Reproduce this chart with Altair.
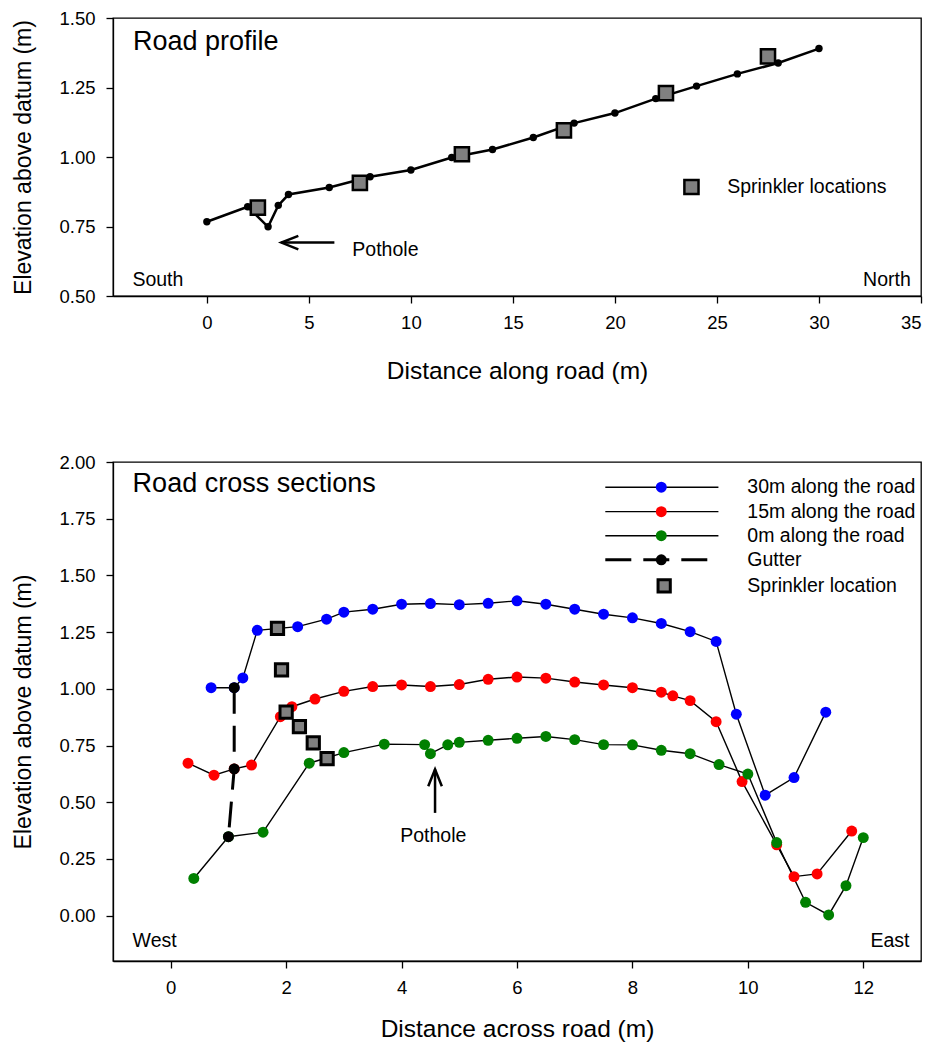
import altair as alt
import pandas as pd

FONT = "Liberation Sans"

# ---------------- top panel: road profile ----------------
profile_x = [0, 2, 3, 3.5, 4, 6, 8, 10, 12, 14, 16, 18, 20, 22, 24, 26, 28, 30]
profile_y = [0.767, 0.821, 0.749, 0.826, 0.865, 0.890, 0.929, 0.953, 0.998, 1.027,
             1.070, 1.122, 1.158, 1.210, 1.255, 1.299, 1.338, 1.390]
profile_spr_x = [2.5, 7.5, 12.5, 17.5, 22.5, 27.5]
profile_spr_y = [0.818, 0.907, 1.010, 1.096, 1.230, 1.362]
top_x_ticks = [0, 5, 10, 15, 20, 25, 30, 35]
top_y_ticks = [0.5, 0.75, 1.0, 1.25, 1.5]

# ---------------- bottom panel: cross sections ----------------
s30_x = [0.7, 1.1, 1.25, 1.5, 2.2, 2.7, 3.0, 3.5, 4.0, 4.5, 5.0, 5.5, 6.0, 6.5, 7.0,
         7.5, 8.0, 8.5, 9.0, 9.45, 9.8, 10.3, 10.8, 11.35]
s30_y = [1.005, 1.005, 1.048, 1.258, 1.274, 1.307, 1.338, 1.351, 1.373, 1.376, 1.371,
         1.377, 1.388, 1.373, 1.351, 1.329, 1.313, 1.288, 1.252, 1.209, 0.888, 0.531,
         0.609, 0.897]
s15_x = [0.3, 0.75, 1.1, 1.4, 1.9, 2.1, 2.5, 3.0, 3.5, 4.0, 4.5, 5.0, 5.5, 6.0, 6.5,
         7.0, 7.5, 8.0, 8.5, 8.7, 9.0, 9.45, 9.9, 10.5, 10.8, 11.2, 11.8]
s15_y = [0.672, 0.619, 0.647, 0.664, 0.877, 0.921, 0.955, 0.989, 1.010, 1.017, 1.010,
         1.019, 1.042, 1.052, 1.047, 1.030, 1.017, 1.005, 0.985, 0.969, 0.948, 0.855,
         0.591, 0.312, 0.172, 0.184, 0.373]
s0_x = [0.4, 1.0, 1.6, 2.4, 3.0, 3.7, 4.4, 4.5, 4.8, 5.0, 5.5, 6.0, 6.5, 7.0, 7.5,
        8.0, 8.5, 9.0, 9.5, 10.0, 10.5, 11.0, 11.4, 11.7, 12.0]
s0_y = [0.164, 0.348, 0.368, 0.672, 0.719, 0.756, 0.754, 0.714, 0.753, 0.764, 0.773,
        0.782, 0.790, 0.776, 0.754, 0.753, 0.729, 0.714, 0.666, 0.624, 0.322, 0.059,
        0.003, 0.132, 0.344]
gutter_x = [1.1, 1.1, 1.0]
gutter_y = [1.005, 0.647, 0.348]
cross_spr_x = [1.85, 1.92, 2.0, 2.23, 2.47, 2.71]
cross_spr_y = [1.267, 1.083, 0.897, 0.833, 0.762, 0.692]
series_names = ["30m along the road", "15m along the road", "0m along the road"]
series_colors = ["#0000FF", "#FF0000", "#008000"]
bot_x_ticks = [0, 2, 4, 6, 8, 10, 12]
bot_y_ticks = [0, 0.25, 0.5, 0.75, 1.0, 1.25, 1.5, 1.75, 2.0]

# ---------------- annotation positions (data units) ----------------
top_texts = ["Road profile", "South", "Pothole", "Sprinkler locations"]
top_text_x = [-3.62, -3.65, 7.13, 25.5]
top_text_y = [1.385, 0.536, 0.667, 0.892]
top_text_size = [27, 19.5, 19.5, 19.5]
top_text_base = ["alphabetic", "alphabetic", "middle", "middle"]
north_x, north_y = 34.5, 0.536
top_arrow = dict(x=6.25, x2=3.65, y=0.692)
top_legend_sq = dict(x=23.75, y=0.892)

bot_texts = ["Road cross sections", "West", "Pothole"]
bot_text_x = [-0.66, -0.66, 4.55]
bot_text_y = [1.866, -0.137, 0.351]
bot_text_size = [27, 19.5, 19.5]
bot_text_align = ["left", "left", "center"]
east_x, east_y = 12.8, -0.137
bot_arrow = dict(x=4.58, y=0.453, y2=0.645)

leg_labels = ["30m along the road", "15m along the road", "0m along the road",
              "Gutter", "Sprinkler location"]
leg_y = [1.889, 1.781, 1.675, 1.569, 1.454]
leg_line_x = [7.53, 9.49]
leg_dot_x = 8.5
leg_text_x = 9.99
leg_sq_x = 8.55

# ---------------- scales / encodings ----------------
xs_top = alt.Scale(domain=[-4.6, 35], nice=False, zero=False)
ys_top = alt.Scale(domain=[0.5, 1.5], nice=False, zero=False)
xs_bot = alt.Scale(domain=[-1, 13], nice=False, zero=False)
ys_bot = alt.Scale(domain=[-0.2, 2.0], nice=False, zero=False)

X_top = alt.X("x:Q", scale=xs_top,
              axis=alt.Axis(values=top_x_ticks, format="d", title="Distance along road (m)",
                            titlePadding=28))
Y_top = alt.Y("y:Q", scale=ys_top,
              axis=alt.Axis(values=top_y_ticks, format=".2f", title="Elevation above datum (m)"))
X_bot = alt.X("x:Q", scale=xs_bot,
              axis=alt.Axis(values=bot_x_ticks, format="d", title="Distance across road (m)",
                            titlePadding=21))
Y_bot = alt.Y("y:Q", scale=ys_bot,
              axis=alt.Axis(values=bot_y_ticks, format=".2f", title="Elevation above datum (m)"))

ARROW_LEFT = "M 2,-0.8 L 0,0 L 2,0.8"
ARROW_UP = "M -0.8,2 L 0,0 L 0.8,2"

# ---------------- top chart ----------------
prof_df = pd.DataFrame({"x": profile_x, "y": profile_y, "i": list(range(len(profile_x)))})
pspr_df = pd.DataFrame({"x": profile_spr_x, "y": profile_spr_y})

t_line = alt.Chart(prof_df).mark_line(color="black", strokeWidth=2.5).encode(
    X_top, Y_top, order="i:Q")
t_pts = alt.Chart(prof_df).mark_point(shape="circle", filled=True, color="black",
                                      size=55, opacity=1).encode(X_top, Y_top)
t_spr = alt.Chart(pspr_df).mark_point(shape="square", filled=True, fill="#808080",
                                      stroke="black", strokeWidth=2.5, size=200,
                                      opacity=1).encode(X_top, Y_top)
ttxt_df = pd.DataFrame({"x": top_text_x, "y": top_text_y, "t": top_texts})
t_txt_layers = []
for i in range(len(top_texts)):
    t_txt_layers.append(
        alt.Chart(ttxt_df.iloc[[i]]).mark_text(
            align="left", baseline=top_text_base[i], font=FONT,
            fontSize=top_text_size[i], color="black").encode(X_top, Y_top, text="t:N"))
t_north = alt.Chart(pd.DataFrame({"x": [north_x], "y": [north_y], "t": ["North"]})).mark_text(
    align="right", baseline="alphabetic", font=FONT, fontSize=19.5, color="black"
).encode(X_top, Y_top, text="t:N")
tarr_df = pd.DataFrame({"x": [top_arrow["x"]], "x2": [top_arrow["x2"]], "y": [top_arrow["y"]]})
t_arrow = alt.Chart(tarr_df).mark_rule(color="black", strokeWidth=2.5).encode(
    X_top, alt.X2("x2:Q"), Y_top)
t_head = alt.Chart(pd.DataFrame({"x": [top_arrow["x2"]], "y": [top_arrow["y"]]})).mark_point(
    shape=ARROW_LEFT, filled=False, stroke="black", strokeWidth=2.5, size=289, opacity=1
).encode(X_top, Y_top)
t_legsq = alt.Chart(pd.DataFrame({"x": [top_legend_sq["x"]], "y": [top_legend_sq["y"]]})).mark_point(
    shape="square", filled=True, fill="#808080", stroke="black", strokeWidth=2.5,
    size=200, opacity=1).encode(X_top, Y_top)

top = alt.layer(t_line, t_pts, t_spr, *t_txt_layers, t_north, t_arrow, t_head, t_legsq
                ).properties(width=808, height=278)

# ---------------- bottom chart ----------------
rows = []
for name, xs, ys in zip(series_names, [s30_x, s15_x, s0_x], [s30_y, s15_y, s0_y]):
    for k, (a, b) in enumerate(zip(xs, ys)):
        rows.append({"x": a, "y": b, "series": name, "i": k})
sec_df = pd.DataFrame(rows)
gut_df = pd.DataFrame({"x": gutter_x, "y": gutter_y, "i": list(range(len(gutter_x)))})
cspr_df = pd.DataFrame({"x": cross_spr_x, "y": cross_spr_y})

color_scale = alt.Scale(domain=series_names, range=series_colors)

b_lines = alt.Chart(sec_df).mark_line(color="black", strokeWidth=1.4).encode(
    X_bot, Y_bot, detail="series:N", order="i:Q")
b_pts = alt.Chart(sec_df).mark_point(shape="circle", filled=True, size=120, opacity=1).encode(
    X_bot, Y_bot, color=alt.Color("series:N", scale=color_scale, legend=None))
b_gline = alt.Chart(gut_df).mark_line(color="black", strokeWidth=3, strokeDash=[26, 12]).encode(
    X_bot, Y_bot, order="i:Q")
b_gpts = alt.Chart(gut_df).mark_point(shape="circle", filled=True, color="black", size=120,
                                      opacity=1).encode(X_bot, Y_bot)
b_spr = alt.Chart(cspr_df).mark_point(shape="square", filled=True, fill="#808080",
                                      stroke="black", strokeWidth=3, size=150,
                                      opacity=1).encode(X_bot, Y_bot)

btxt_layers = []
for i in range(len(bot_texts)):
    d = pd.DataFrame({"x": [bot_text_x[i]], "y": [bot_text_y[i]], "t": [bot_texts[i]]})
    btxt_layers.append(alt.Chart(d).mark_text(
        align=bot_text_align[i], baseline="alphabetic" if i < 2 else "middle", font=FONT,
        fontSize=bot_text_size[i], color="black").encode(X_bot, Y_bot, text="t:N"))
b_east = alt.Chart(pd.DataFrame({"x": [east_x], "y": [east_y], "t": ["East"]})).mark_text(
    align="right", baseline="alphabetic", font=FONT, fontSize=19.5, color="black"
).encode(X_bot, Y_bot, text="t:N")
barr_df = pd.DataFrame({"x": [bot_arrow["x"]], "y": [bot_arrow["y"]], "y2": [bot_arrow["y2"]]})
b_arrow = alt.Chart(barr_df).mark_rule(color="black", strokeWidth=2.5).encode(
    X_bot, Y_bot, alt.Y2("y2:Q"))
b_head = alt.Chart(pd.DataFrame({"x": [bot_arrow["x"]], "y": [bot_arrow["y2"]]})).mark_point(
    shape=ARROW_UP, filled=False, stroke="black", strokeWidth=2.5, size=289, opacity=1
).encode(X_bot, Y_bot)

# legend (bottom panel)
leg_line_df = pd.DataFrame({"x": [leg_line_x[0]] * 3, "x2": [leg_line_x[1]] * 3, "y": leg_y[:3]})
leg_dash_df = pd.DataFrame({"x": [leg_line_x[0]], "x2": [leg_line_x[1]], "y": [leg_y[3]]})
leg_dot_df = pd.DataFrame({"x": [leg_dot_x] * 4, "y": leg_y[:4],
                           "series": series_names + ["Gutter"]})
leg_txt_df = pd.DataFrame({"x": [leg_text_x] * 5, "y": leg_y, "t": leg_labels})
leg_sq_df = pd.DataFrame({"x": [leg_sq_x], "y": [leg_y[4]]})

l_lines = alt.Chart(leg_line_df).mark_rule(color="black", strokeWidth=1.4).encode(
    X_bot, alt.X2("x2:Q"), Y_bot)
l_dash = alt.Chart(leg_dash_df).mark_rule(color="black", strokeWidth=3, strokeDash=[26, 12]).encode(
    X_bot, alt.X2("x2:Q"), Y_bot)
l_dots = alt.Chart(leg_dot_df).mark_point(shape="circle", filled=True, size=120, opacity=1).encode(
    X_bot, Y_bot,
    color=alt.Color("series:N", scale=alt.Scale(domain=series_names + ["Gutter"],
                                                range=series_colors + ["#000000"]), legend=None))
l_txt = alt.Chart(leg_txt_df).mark_text(align="left", baseline="middle", font=FONT,
                                        fontSize=19.5, color="black").encode(X_bot, Y_bot, text="t:N")
l_sq = alt.Chart(leg_sq_df).mark_point(shape="square", filled=True, fill="#808080",
                                       stroke="black", strokeWidth=3, size=150,
                                       opacity=1).encode(X_bot, Y_bot)

bottom = alt.layer(b_lines, b_pts, b_gline, b_gpts, b_spr, *btxt_layers, b_east,
                   b_arrow, b_head, l_lines, l_dash, l_dots, l_txt, l_sq
                   ).resolve_scale(color="independent").properties(width=808, height=499)

chart = alt.vconcat(top, bottom, spacing=166, bounds="flush").properties(
    padding={"left": 12, "top": 8, "right": 2, "bottom": 5}
).configure(font=FONT).configure_axis(
    labelFont=FONT, labelFontSize=18.5, labelColor="black",
    titleFont=FONT, titleFontSize=23, titleFontWeight="normal", titleColor="black",
    domainColor="black", domainWidth=1.3, tickColor="black", tickWidth=1.3, tickSize=7,
    grid=False
).configure_axisX(labelPadding=10, titleFontSize=24.5).configure_axisY(
    labelPadding=11, titlePadding=23
).configure_view(stroke="black", strokeWidth=1.3)

chart.save("out.html", embed_options={"renderer": "svg", "actions": False})
